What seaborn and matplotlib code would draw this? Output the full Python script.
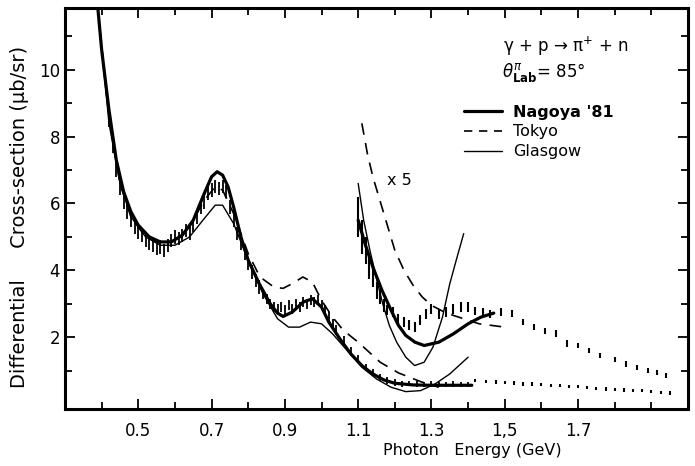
import numpy as np
import pandas as pd
import matplotlib
matplotlib.use("Agg")
import matplotlib.pyplot as plt
import seaborn as sns
from matplotlib.lines import Line2D
from matplotlib.ticker import FixedLocator, FixedFormatter

# ---------------- data ----------------
# Nagoya '81 fit (unscaled)
nag_x = [0.39, 0.40, 0.42, 0.44, 0.46, 0.48, 0.50, 0.53, 0.56, 0.59, 0.62, 0.65, 0.68, 0.70,
         0.715, 0.73, 0.745, 0.76, 0.78, 0.80, 0.83, 0.86, 0.88, 0.895, 0.92, 0.95, 0.975,
         1.00, 1.02, 1.05, 1.08, 1.11, 1.14, 1.17, 1.20, 1.25, 1.30, 1.35, 1.41]
nag_y = [11.8, 10.6, 8.8, 7.3, 6.35, 5.75, 5.35, 5.0, 4.85, 4.85, 5.05, 5.5, 6.3, 6.8,
         6.95, 6.85, 6.5, 5.9, 5.0, 4.3, 3.6, 3.0, 2.72, 2.62, 2.75, 3.05, 3.15,
         2.9, 2.45, 1.95, 1.5, 1.15, 0.9, 0.72, 0.62, 0.57, 0.56, 0.56, 0.56]
# Tokyo fit (unscaled)
tok_x = [0.39, 0.42, 0.45, 0.48, 0.52, 0.56, 0.60, 0.64, 0.68, 0.71, 0.73, 0.76, 0.80, 0.832,
         0.87, 0.895, 0.92, 0.949, 0.975, 1.00, 1.03, 1.06, 1.10, 1.16, 1.21, 1.27, 1.32]
tok_y = [11.8, 8.6, 6.6, 5.6, 5.0, 4.8, 4.9, 5.3, 6.1, 6.5, 6.4, 5.7, 4.5, 3.8,
         3.5, 3.46, 3.6, 3.8, 3.65, 3.1, 2.6, 2.2, 1.85, 1.25, 0.93, 0.67, 0.5]
# Glasgow fit (unscaled)
gla_x = [0.39, 0.42, 0.45, 0.48, 0.52, 0.56, 0.60, 0.64, 0.68, 0.71, 0.73, 0.76, 0.80, 0.84,
         0.88, 0.91, 0.94, 0.97, 1.00, 1.03, 1.07, 1.11, 1.15, 1.19, 1.23, 1.27, 1.31, 1.35, 1.40]
gla_y = [11.8, 8.4, 6.6, 5.6, 5.0, 4.75, 4.75, 5.0, 5.55, 5.95, 5.95, 5.4, 4.3, 3.3,
         2.55, 2.3, 2.3, 2.45, 2.4, 2.1, 1.6, 1.1, 0.75, 0.5, 0.37, 0.4, 0.6, 0.9, 1.4]

# x5 scaled fits
nag5_x = [1.10, 1.12, 1.14, 1.165, 1.19, 1.21, 1.23, 1.255, 1.28, 1.32, 1.36, 1.40, 1.435, 1.47]
nag5_y = [5.5, 4.75, 4.1, 3.4, 2.8, 2.35, 2.05, 1.85, 1.75, 1.85, 2.1, 2.4, 2.6, 2.72]
tok5_x = [1.11, 1.125, 1.14, 1.17, 1.20, 1.225, 1.25, 1.275, 1.30, 1.33, 1.36, 1.43, 1.50]
tok5_y = [8.4, 7.5, 6.8, 5.7, 4.6, 4.0, 3.55, 3.2, 2.95, 2.78, 2.65, 2.4, 2.3]
gla5_x = [1.10, 1.115, 1.132, 1.15, 1.167, 1.185, 1.205, 1.23, 1.254, 1.28, 1.304, 1.33, 1.35, 1.37, 1.388]
gla5_y = [6.6, 5.5, 4.6, 3.75, 3.0, 2.35, 1.85, 1.4, 1.15, 1.25, 1.7, 2.6, 3.6, 4.4, 5.1]

# measured points (unscaled)
dat_x = [0.42, 0.43, 0.44, 0.45, 0.46, 0.47, 0.48, 0.49, 0.50, 0.51, 0.52, 0.53, 0.54, 0.55,
         0.56, 0.57, 0.58, 0.59, 0.60, 0.61, 0.62, 0.63, 0.64, 0.65, 0.66, 0.67, 0.68, 0.69,
         0.70, 0.71, 0.72, 0.73, 0.74, 0.75, 0.76, 0.77, 0.78, 0.79, 0.80, 0.81, 0.82, 0.83,
         0.84, 0.85, 0.86, 0.87, 0.88, 0.89, 0.90, 0.91, 0.92, 0.93, 0.94, 0.95, 0.96, 0.97,
         0.98, 0.99, 1.00, 1.01, 1.02, 1.03, 1.04, 1.06, 1.08, 1.10, 1.12, 1.14, 1.16, 1.18,
         1.20, 1.22, 1.24, 1.26, 1.28, 1.30, 1.32, 1.34, 1.36, 1.38, 1.40]
dat_y = [8.6, 7.8, 7.1, 6.5, 6.1, 5.8, 5.5, 5.3, 5.15, 5.05, 4.9, 4.8, 4.75, 4.65,
         4.7, 4.6, 4.75, 4.9, 5.0, 4.95, 5.05, 5.2, 5.1, 5.35, 5.6, 5.9, 6.05, 6.3,
         6.4, 6.5, 6.45, 6.5, 6.35, 5.9, 5.5, 5.1, 4.8, 4.5, 4.2, 3.95, 3.7, 3.5,
         3.3, 3.15, 3.0, 2.9, 2.85, 2.9, 2.8, 2.95, 2.85, 3.0, 2.9, 3.05, 3.0, 3.1,
         3.05, 3.1, 2.95, 2.8, 2.6, 2.4, 2.2, 1.9, 1.6, 1.35, 1.1, 0.95, 0.8, 0.7,
         0.65, 0.6, 0.62, 0.6, 0.58, 0.6, 0.58, 0.58, 0.6, 0.58, 0.58]
dat_e = [0.3, 0.3, 0.3, 0.25, 0.25, 0.25, 0.2, 0.2, 0.2, 0.2, 0.2, 0.2, 0.2, 0.2,
         0.2, 0.2, 0.2, 0.2, 0.2, 0.2, 0.2, 0.2, 0.2, 0.2, 0.2, 0.2, 0.2, 0.2,
         0.2, 0.2, 0.2, 0.2, 0.2, 0.2, 0.2, 0.2, 0.2, 0.2, 0.2, 0.2, 0.2, 0.2,
         0.15, 0.15, 0.15, 0.15, 0.15, 0.15, 0.15, 0.15, 0.15, 0.15, 0.15, 0.15, 0.15, 0.15,
         0.15, 0.15, 0.15, 0.15, 0.15, 0.15, 0.15, 0.12, 0.12, 0.12, 0.1, 0.1, 0.1, 0.1,
         0.1, 0.08, 0.08, 0.08, 0.08, 0.08, 0.08, 0.08, 0.08, 0.08, 0.08]
# high-energy tail (unscaled, dotted)
tail_x = [1.42, 1.45, 1.475, 1.50, 1.525, 1.55, 1.575, 1.60, 1.625, 1.65, 1.675, 1.70,
          1.725, 1.75, 1.775, 1.80, 1.825, 1.85, 1.875, 1.90, 1.925, 1.95]
tail_y = [0.7, 0.68, 0.66, 0.65, 0.63, 0.6, 0.6, 0.58, 0.56, 0.55, 0.53, 0.52,
          0.5, 0.47, 0.45, 0.44, 0.42, 0.41, 0.4, 0.37, 0.35, 0.33]
# x5 points
d5_x = [1.10, 1.11, 1.12, 1.13, 1.14, 1.15, 1.16, 1.17, 1.18, 1.195, 1.21, 1.225, 1.24,
        1.255, 1.27, 1.285, 1.30, 1.32, 1.34, 1.36, 1.38, 1.40, 1.42, 1.44, 1.46, 1.49,
        1.52, 1.55, 1.58, 1.61, 1.64, 1.67, 1.70, 1.73, 1.76, 1.80, 1.83, 1.86, 1.89, 1.915, 1.94]
d5_y = [5.6, 5.0, 4.6, 4.1, 3.8, 3.4, 3.2, 2.95, 2.8, 2.74, 2.55, 2.45, 2.35,
        2.3, 2.5, 2.7, 2.85, 2.7, 2.75, 2.85, 2.9, 2.9, 2.78, 2.75, 2.7, 2.75,
        2.7, 2.45, 2.3, 2.18, 2.1, 1.81, 1.75, 1.6, 1.45, 1.33, 1.2, 1.1, 1.0, 0.95, 0.85]
d5_e = [0.6, 0.5, 0.4, 0.35, 0.3, 0.25, 0.2, 0.2, 0.15, 0.15, 0.15, 0.15, 0.15,
        0.15, 0.15, 0.15, 0.15, 0.15, 0.15, 0.15, 0.15, 0.15, 0.12, 0.12, 0.12, 0.12,
        0.1, 0.1, 0.1, 0.1, 0.1, 0.1, 0.08, 0.08, 0.08, 0.08, 0.08, 0.08, 0.08, 0.08, 0.08]

xtick_vals = [0.5, 0.7, 0.9, 1.1, 1.3, 1.5, 1.7]
xtick_labels = ["0.5", "0.7", "0.9", "1.1", "1.3", "1,5", "1.7"]
ytick_vals = [2, 4, 6, 8, 10]
ytick_labels = ["2", "4", "6", "8", "10"]

# ---------------- plotting ----------------
sns.set_style("ticks")
plt.rcParams['font.family'] = ['DejaVu Sans']
plt.rcParams['mathtext.fontset'] = 'dejavusans'
plt.rcParams['text.color'] = 'black'
plt.rcParams['axes.labelcolor'] = 'black'

fig = plt.figure(figsize=(6.95, 4.66), dpi=100)
ax = fig.add_axes([65/695, (466-409)/466, 623/695, 401/466])

def curve(x, y, **kw):
    df = pd.DataFrame({"E": x, "sigma": y})
    sns.lineplot(data=df, x="E", y="sigma", ax=ax, sort=False, estimator=None,
                 color="black", **kw)

curve(nag_x, nag_y, linewidth=2.3)
curve(tok_x, tok_y, linewidth=1.2, linestyle=(0, (7, 5)))
curve(gla_x, gla_y, linewidth=1.0)
curve(nag5_x, nag5_y, linewidth=2.3)
curve(tok5_x, tok5_y, linewidth=1.2, linestyle=(0, (7, 5)))
curve(gla5_x, gla5_y, linewidth=1.0)

ax.errorbar(dat_x, dat_y, yerr=dat_e, fmt="none", ecolor="black", elinewidth=1.3, capsize=0)
ax.errorbar(tail_x, tail_y, yerr=0.05, fmt="none", ecolor="black", elinewidth=1.5, capsize=0)
ax.errorbar(d5_x, d5_y, yerr=d5_e, fmt="none", ecolor="black", elinewidth=1.5, capsize=0)

ax.set_xlim(0.3, 2.0)
ax.set_ylim(-0.15, 11.85)

ax.xaxis.set_major_locator(FixedLocator(xtick_vals))
ax.xaxis.set_major_formatter(FixedFormatter(xtick_labels))
ax.xaxis.set_minor_locator(FixedLocator([0.4, 0.6, 0.8, 1.0, 1.2, 1.4, 1.6, 1.8, 1.9]))
ax.yaxis.set_major_locator(FixedLocator(ytick_vals))
ax.yaxis.set_major_formatter(FixedFormatter(ytick_labels))
ax.yaxis.set_minor_locator(FixedLocator([1, 3, 5, 7, 9, 11]))

ax.tick_params(which="both", direction="in", top=True, right=True, width=1.3,
               labelsize=12, colors="black")
ax.tick_params(which="major", length=7)
ax.tick_params(which="minor", length=5)
ax.tick_params(axis="x", which="major", pad=9)
for sp in ax.spines.values():
    sp.set_linewidth(2.2)
    sp.set_color("black")

ax.set_xlabel("Photon   Energy (GeV)", fontsize=11.5, color="black")
ax.xaxis.set_label_coords(0.653, -0.085)
ax.set_ylabel("Differential     Cross-section (\u03bcb/sr)", fontsize=14, color="black")
ax.yaxis.set_label_coords(-0.058, 0.48)

ax.text(0.703, 0.905, "\u03b3 + p \u2192 \u03c0$^{+}$ + n", transform=ax.transAxes,
        fontsize=12, va="center", color="black")
ax.text(0.701, 0.84, "$\\theta^{\\pi}_{\\mathbf{Lab}}$= 85\u00b0", transform=ax.transAxes,
        fontsize=12, va="center", color="black")
ax.text(1.18, 6.7, "x 5", fontsize=11.5, va="center", color="black")

handles = [Line2D([], [], color="black", lw=2.3),
           Line2D([], [], color="black", lw=1.2, linestyle=(0, (5, 4))),
           Line2D([], [], color="black", lw=1.0)]
leg = ax.legend(handles, ["Nagoya '81", "Tokyo", "Glasgow"], loc="upper left",
                bbox_to_anchor=(0.63, 0.775), frameon=False, fontsize=11.5,
                handlelength=2.4, handletextpad=0.7, labelspacing=0.3, borderaxespad=0)
for t in leg.get_texts():
    t.set_color("black")
leg.get_texts()[0].set_fontweight("bold")

fig.savefig("out.png", dpi=100)
